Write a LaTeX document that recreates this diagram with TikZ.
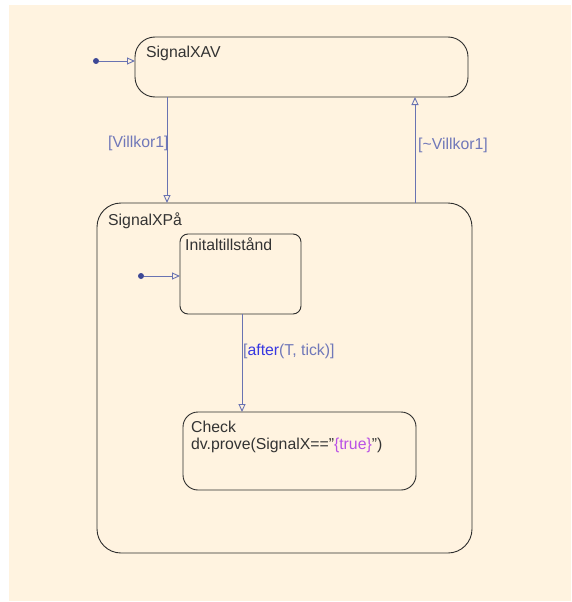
\documentclass[tikz,border=0pt]{standalone}
\usepackage{fontspec}
\setmainfont{Liberation Sans}
\usetikzlibrary{arrows.meta}
\definecolor{paper}{RGB}{255,243,224}
\definecolor{wire}{RGB}{105,115,178}
\definecolor{wiretext}{RGB}{112,120,185}
\definecolor{dotblue}{RGB}{62,72,150}
\definecolor{edge}{RGB}{45,45,45}
\definecolor{kwblue}{RGB}{55,55,225}
\definecolor{strpurple}{RGB}{185,80,230}
\tikzset{
  statebox/.style={draw=edge, line width=0.9pt},
  wirestyle/.style={draw=wire, line width=0.9pt, -{Triangle[open, length=8pt, width=7pt]}},
  wirelabel/.style={text=wiretext, font=\fontsize{15.8}{17}\selectfont, anchor=base west, inner sep=0pt},
  statelabel/.style={text=black!80, font=\fontsize{15.8}{17}\selectfont, anchor=base west, inner sep=0pt},
  startdot/.style={circle, fill=dotblue, inner sep=0pt, minimum size=6pt},
}
\begin{document}
\begin{tikzpicture}[x=1pt, y=-1pt]
  \useasboundingbox (0,0) rectangle (571,602);
  \fill[paper] (9,5) rectangle (571,601);

  % states
  \draw[statebox, rounded corners=20pt] (135,37) rectangle (468,97);
  \node[statelabel] (lav) at (146,57) {SignalXAV};
  \coordinate (avL) at (135,61);
  \coordinate (avB1) at (167,97);
  \coordinate (avB2) at (415,97);

  \draw[statebox, rounded corners=24pt] (97,203) rectangle (472,553);
  \node[statelabel] (lpa) at (108,225) {SignalXPå};
  \coordinate (paT1) at (167,203);
  \coordinate (paT2) at (415,203);

  \draw[statebox, rounded corners=8pt] (180,234) rectangle (301,314);
  \node[statelabel] (lit) at (185,250) {Initaltillstånd};
  \coordinate (itL) at (180,276);
  \coordinate (itB) at (242,314);

  \draw[statebox, rounded corners=15pt] (183,412) rectangle (416,490);
  \node[statelabel] (lck) at (191,432) {Check};
  \node[statelabel] (lck2) at (191,449) {dv.prove(SignalX=="\textcolor{strpurple}{\{true\}}")};
  \coordinate (ckT) at (242,412);

  % default transitions
  \node[startdot] (d1) at (96,61) {};
  \node[startdot] (d2) at (141,276) {};
  \draw[wirestyle] (d1) -- (avL);
  \draw[wirestyle] (d2) -- (itL);

  % transitions
  \draw[wirestyle] (avB1) -- (paT1);
  \draw[wirestyle] (paT2) -- (avB2);
  \draw[wirestyle] (itB) -- (ckT);

  \node[wirelabel] (t1) at (108,147) {[Villkor1]};
  \node[wirelabel] (t2) at (418,149) {[\textasciitilde Villkor1]};
  \node[wirelabel] (t3) at (243,355) {[\textcolor{kwblue}{after}(T, tick)]};
\end{tikzpicture}
\end{document}
